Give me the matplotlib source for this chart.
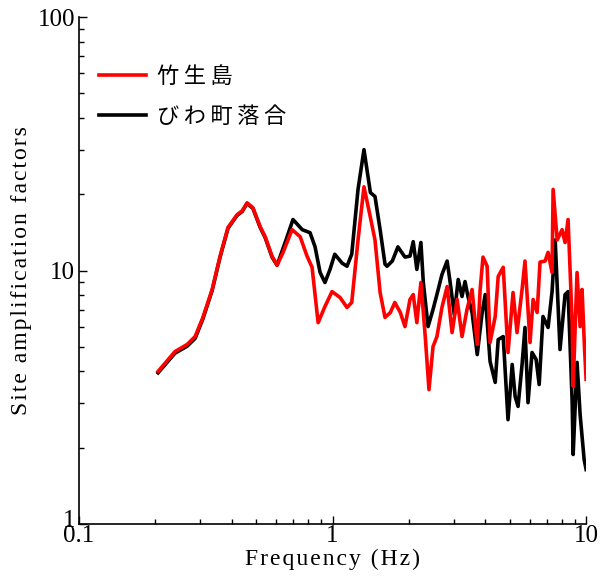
import matplotlib
matplotlib.use("Agg")
import matplotlib.pyplot as plt
from matplotlib.ticker import LogLocator, FixedFormatter, NullFormatter
from matplotlib.transforms import ScaledTranslation

# 竹生島 (red)
freq_red = [0.205, 0.239, 0.267, 0.287, 0.308, 0.335, 0.360, 0.387, 0.420, 0.440,
            0.460, 0.485, 0.518, 0.542, 0.577, 0.604, 0.638, 0.692, 0.745, 0.793,
            0.830, 0.877, 0.933, 0.995, 1.07, 1.14, 1.19, 1.26, 1.33, 1.41,
            1.47, 1.54, 1.61, 1.69, 1.76, 1.85, 1.93, 2.02, 2.08, 2.15,
            2.23, 2.32, 2.40, 2.49, 2.58, 2.70, 2.83, 2.96, 3.10, 3.24,
            3.39, 3.55, 3.72, 3.82, 3.92, 4.07, 4.18, 4.38, 4.50, 4.71,
            4.92, 5.15, 5.34, 5.59, 5.74, 6.01, 6.18, 6.41, 6.58, 6.89,
            7.08, 7.34, 7.41, 7.69, 8.04, 8.26, 8.49, 8.81, 8.89, 9.21,
            9.47, 9.64, 9.85, 10.0]
amp_red = [4.0, 4.79, 5.11, 5.49, 6.53, 8.42, 11.4, 14.8, 16.6, 17.2,
           18.5, 17.7, 14.9, 13.6, 11.4, 10.5, 11.8, 14.5, 13.6, 11.4,
           10.3, 6.23, 7.21, 8.26, 7.83, 7.15, 7.48, 13.2, 21.4, 16.2,
           13.2, 8.19, 6.53, 6.83, 7.48, 6.83, 6.01, 7.69, 8.04, 6.23,
           8.97, 5.49, 3.39, 5.01, 5.49, 7.15, 8.65, 5.69, 7.69, 5.49,
           7.02, 8.42, 5.11, 8.42, 11.3, 10.4, 5.20, 6.59, 9.47, 10.3,
           4.75, 8.19, 5.69, 8.42, 10.9, 5.20, 7.69, 6.83, 10.8, 10.9,
           11.8, 9.82, 20.9, 13.2, 14.5, 12.9, 15.9, 6.23, 3.49, 9.82,
           6.01, 8.42, 5.01, 3.72]

# びわ町落合 (black)
freq_blk = [0.205, 0.239, 0.267, 0.287, 0.308, 0.335, 0.360, 0.387, 0.420, 0.440,
            0.460, 0.485, 0.518, 0.542, 0.577, 0.604, 0.650, 0.698, 0.759, 0.815,
            0.853, 0.893, 0.933, 0.977, 1.02, 1.09, 1.14, 1.19, 1.26, 1.33,
            1.41, 1.47, 1.54, 1.61, 1.64, 1.72, 1.81, 1.93, 2.02, 2.08,
            2.15, 2.23, 2.28, 2.38, 2.49, 2.61, 2.70, 2.83, 2.91, 3.02,
            3.13, 3.24, 3.33, 3.42, 3.55, 3.72, 3.89, 4.00, 4.18, 4.38,
            4.50, 4.71, 4.92, 5.11, 5.25, 5.39, 5.59, 5.74, 5.90, 6.12,
            6.35, 6.53, 6.76, 7.08, 7.34, 7.55, 7.89, 8.26, 8.49, 8.81,
            8.89, 9.21, 9.47, 9.82, 10.0]
amp_blk = [3.95, 4.72, 5.03, 5.40, 6.45, 8.35, 11.3, 14.7, 16.5, 17.1,
           18.4, 17.6, 14.8, 13.5, 11.3, 10.5, 12.9, 15.9, 14.5, 14.1,
           12.4, 9.82, 8.97, 10.1, 11.6, 10.7, 10.4, 11.6, 20.9, 30.0,
           20.3, 19.6, 14.5, 10.6, 10.4, 10.9, 12.4, 11.3, 11.4, 13.0,
           10.1, 12.9, 8.97, 6.01, 7.02, 8.42, 9.64, 10.9, 8.97, 6.70,
           9.22, 7.90, 9.05, 7.90, 6.83, 4.66, 6.83, 8.04, 4.38, 3.62,
           5.34, 5.49, 2.58, 4.26, 3.18, 2.91, 4.26, 5.96, 3.01, 4.75,
           4.46, 3.55, 6.59, 5.96, 8.26, 13.2, 4.88, 8.04, 8.26, 3.04,
           1.88, 4.34, 2.70, 1.80, 1.64]

x_ticks = [0.1, 1, 10]
x_labels = ["0.1", "1", "10"]
y_ticks = [1, 10, 100]
y_labels = ["1", "10", "100"]


def spaced(s, sep="\u2009"):
    # the original figure uses loose letter spacing
    return sep.join(s)


serif = ["Liberation Serif", "DejaVu Serif"]
cjk = ["Noto Sans CJK JP", "DejaVu Sans"]
plt.rcParams["font.family"] = serif

fig = plt.figure(figsize=(6.08, 5.76), dpi=100)
ax = fig.add_axes([0.130, 0.0903, 0.834, 0.880])

l_blk, = ax.plot(freq_blk, amp_blk, color="black", lw=2.6, label=spaced("びわ町落合"))
l_red, = ax.plot(freq_red, amp_red, color="#ff0000", lw=2.6, label=spaced("竹生島"))

ax.set_xscale("log")
ax.set_yscale("log")
ax.set_xlim(0.1, 10)
ax.set_ylim(1, 100)

ax.xaxis.set_minor_locator(LogLocator(base=10, subs=range(2, 10), numticks=20))
ax.yaxis.set_minor_locator(LogLocator(base=10, subs=range(2, 10), numticks=20))
ax.set_xticks(x_ticks)
ax.set_yticks(y_ticks)
ax.xaxis.set_major_formatter(FixedFormatter(x_labels))
ax.yaxis.set_major_formatter(FixedFormatter(y_labels))
ax.xaxis.set_minor_formatter(NullFormatter())
ax.yaxis.set_minor_formatter(NullFormatter())

ax.tick_params(which="both", direction="in", labelsize=18, width=1)
ax.tick_params(axis="x", pad=1)
ax.tick_params(axis="y", pad=3)
ax.tick_params(which="major", length=6)
ax.tick_params(which="minor", length=3.5)
for s in ("top", "right"):
    ax.spines[s].set_visible(False)
for s in ("left", "bottom"):
    ax.spines[s].set_linewidth(1.2)

ax.set_xlabel(spaced("Frequency (Hz)", "\u200a"), fontsize=17, labelpad=1)
ax.set_ylabel(spaced("Site amplification factors", "\u200a"), fontsize=17, labelpad=4)

# lift the bottom "1" on the y axis a little so it sits clear of "0.1"
fig.canvas.draw()
lab1 = ax.yaxis.get_majorticklabels()[0]
lab1.set_transform(lab1.get_transform() + ScaledTranslation(0, 4 / 72, fig.dpi_scale_trans))

leg = ax.legend(handles=[l_red, l_blk], loc="upper left", bbox_to_anchor=(0.0, 0.945),
                frameon=False, handlelength=2.1, handletextpad=0.5, labelspacing=0.75,
                prop={"family": cjk, "size": 16})

fig.savefig("out.png", dpi=100)
